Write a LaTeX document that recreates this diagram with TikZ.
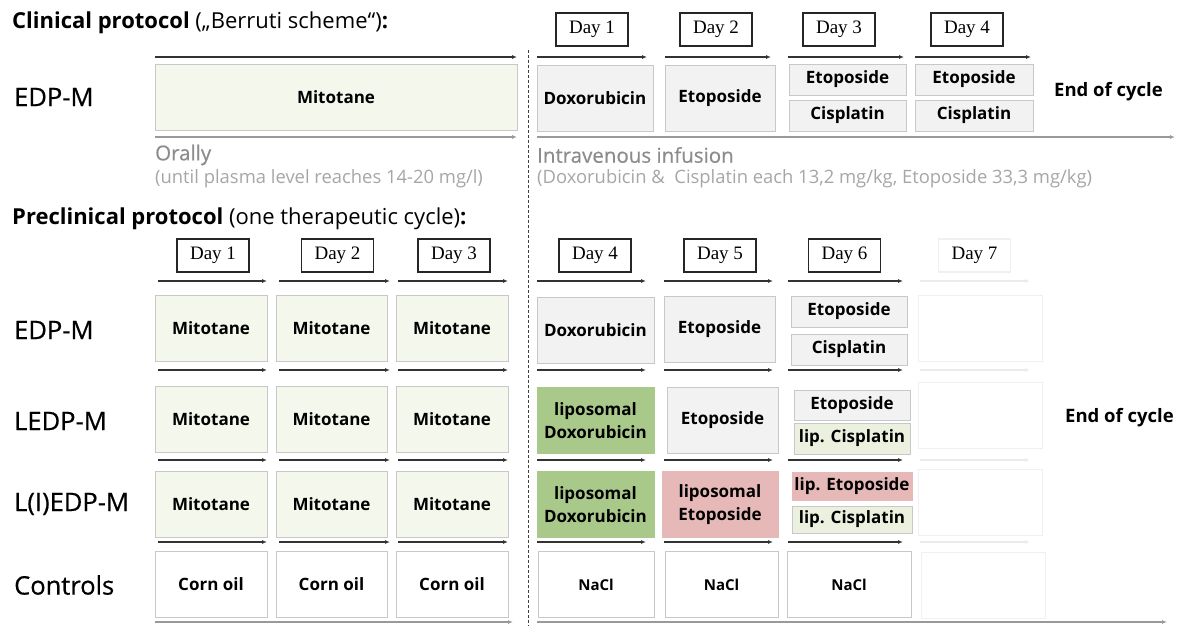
\documentclass[tikz,border=0pt]{standalone}
\usepackage{fontspec}
\setmainfont{Open Sans}
\newfontfamily\dayfont{Liberation Serif}
\newfontfamily\labelfont[FakeBold=0.5]{Open Sans}
\usetikzlibrary{arrows.meta}

\definecolor{mitogreen}{HTML}{F4F7EC}
\definecolor{ivgray}{HTML}{F2F2F2}
\definecolor{lipgreen}{HTML}{A9C98A}
\definecolor{lippale}{HTML}{EBF1DE}
\definecolor{lippink}{HTML}{E6B9B8}
\definecolor{boxline}{HTML}{C8C8C8}
\definecolor{viagray}{HTML}{8C8C8C}
\definecolor{dosegray}{HTML}{A6A6A6}

\begin{document}
\begin{tikzpicture}[x=1pt, y=-1pt,
    daybox/.style={draw=black!85, line width=1.1pt, font=\dayfont\fontsize{19}{21}\selectfont,
        minimum width=72pt, minimum height=33pt, inner sep=0pt},
    cell/.style={draw=boxline, line width=0.9pt, font=\fontsize{17}{23}\selectfont\bfseries,
        align=center, inner sep=0pt, minimum height=66pt},
    half/.style={cell, minimum height=31pt},
    wd/.style={minimum width=#1},
    ghost/.style={draw=black!6, line width=0.9pt, minimum height=66pt, minimum width=124pt},
    rowlabel/.style={anchor=west, inner sep=0pt, font=\labelfont\fontsize{25.5}{28}\selectfont},
    title/.style={anchor=west, inner sep=0pt, font=\fontsize{22}{24}\selectfont},
    endc/.style={anchor=west, inner sep=0pt, font=\fontsize{18.5}{20}\selectfont\bfseries},
    via/.style={anchor=west, inner sep=0pt, text=viagray, font=\labelfont\fontsize{20.5}{22}\selectfont},
    dose/.style={anchor=west, inner sep=0pt, text=dosegray, font=\fontsize{18.4}{20}\selectfont},
    tl/.style={-{Latex[length=5pt,width=4pt]}, line width=1.1pt, draw=black!80},
    tlgray/.style={tl, draw=black!40},
    tlghost/.style={tl, draw=black!8},
    divider/.style={draw=black!75, line width=1pt, dash pattern=on 3pt off 2pt}]

    \useasboundingbox (0,0) rectangle (1179,626);

    % Clinical protocol
    \node[title] (clin) at (12,23) {\textbf{Clinical protocol} („Berruti scheme“)\textbf{:}};
    \node[rowlabel] (cedpm) at (14,97) {EDP-M};

    \node[daybox] (cd1) at (592,29.5) {Day 1};
    \node[daybox] (cd2) at (716,29.5) {Day 2};
    \node[daybox] (cd3) at (839,29.5) {Day 3};
    \node[daybox] (cd4) at (967,29.5) {Day 4};

    \draw[tl] (155,57) -- (517,57);
    \draw[tl] (537,57) -- (647,57);
    \draw[tl] (665,57) -- (771,57);
    \draw[tl] (788,57) -- (904,57);
    \draw[tl] (915,57) -- (1031,57);

    \node[cell, fill=mitogreen, wd=362pt] (cmito) at (336,97.5) {Mitotane};
    \node[cell, fill=ivgray, wd=116pt] (cdoxo) at (595,98) {Doxorubicin};
    \node[cell, fill=ivgray, wd=110pt] (ceto) at (720,98) {Etoposide};
    \node[half, fill=ivgray, wd=117pt] (ceto3) at (847.5,79.5) {Etoposide};
    \node[half, fill=ivgray, wd=117pt] (ccis3) at (847.5,115.5) {Cisplatin};
    \node[half, fill=ivgray, wd=118pt] (ceto4) at (974,79.5) {Etoposide};
    \node[half, fill=ivgray, wd=118pt] (ccis4) at (974,115.5) {Cisplatin};
    \node[endc] (cend) at (1054,92) {End of cycle};

    \draw[tlgray] (155,137) -- (517,137);
    \draw[tlgray] (537,137) -- (1175,137);

    \node[via] (oral) at (155,155) {Orally};
    \node[dose] (oraldose) at (155,179) {(until plasma level reaches 14-20 mg/l)};
    \node[via] (iv) at (537,155) {Intravenous infusion};
    \node[dose] (ivdose) at (537,179) {(Doxorubicin \&\ \ Cisplatin each 13,2 mg/kg, Etoposide 33,3 mg/kg)};

    % oral / intravenous divider
    \draw[divider] (528,50) -- (528,626);

    % Preclinical protocol
    \node[title] (precl) at (12,219) {\textbf{Preclinical protocol} (one therapeutic cycle)\textbf{:}};

    \node[daybox] (pd1) at (213,255.5) {Day 1};
    \node[daybox] (pd2) at (337.5,255.5) {Day 2};
    \node[daybox] (pd3) at (454,255.5) {Day 3};
    \node[daybox] (pd4) at (595,255.5) {Day 4};
    \node[daybox] (pd5) at (720,255.5) {Day 5};
    \node[daybox] (pd6) at (844.5,255.5) {Day 6};
    \node[daybox, draw=black!6] (pd7) at (974.5,255.5) {Day 7};

    \foreach \y in {281,370,460,542} {
        \draw[tl] (158,\y) -- (267,\y);
        \draw[tl] (279,\y) -- (390,\y);
        \draw[tl] (398,\y) -- (508,\y);
        \draw[tl] (537,\y) -- (646,\y);
        \draw[tl] (664,\y) -- (773,\y);
        \draw[tl] (788,\y) -- (903,\y);
        \draw[tlghost] (920,\y) -- (1030,\y);
    }
    \draw[tlgray] (155,622) -- (513,622);
    \draw[tlgray] (537,622) -- (1167,622);

    % EDP-M
    \node[rowlabel] (edpm) at (14,330) {EDP-M};
    \node[cell, fill=mitogreen, wd=112pt] (m11) at (211,328.5) {Mitotane};
    \node[cell, fill=mitogreen, wd=111pt] (m12) at (331.5,328.5) {Mitotane};
    \node[cell, fill=mitogreen, wd=112pt] (m13) at (452,328.5) {Mitotane};
    \node[cell, fill=ivgray, wd=117pt] (d14) at (595.5,330) {Doxorubicin};
    \node[cell, fill=ivgray, wd=111pt] (e15) at (719.5,329.5) {Etoposide};
    \node[half, fill=ivgray, wd=116pt] (e16) at (849,311.5) {Etoposide};
    \node[half, fill=ivgray, wd=116pt] (c16) at (849,349.5) {Cisplatin};
    \node[ghost] (g17) at (980,328.5) {};

    % LEDP-M
    \node[rowlabel] (ledpm) at (14,421) {LEDP-M};
    \node[cell, fill=mitogreen, wd=112pt] (m21) at (211,419.5) {Mitotane};
    \node[cell, fill=mitogreen, wd=111pt] (m22) at (331.5,419.5) {Mitotane};
    \node[cell, fill=mitogreen, wd=112pt] (m23) at (452,419.5) {Mitotane};
    \node[cell, fill=lipgreen, draw=lipgreen, wd=117pt] (d24) at (595.5,420.5) {liposomal\\Doxorubicin};
    \node[cell, fill=ivgray, wd=111pt] (e25) at (722.5,420) {Etoposide};
    \node[half, fill=ivgray, wd=116pt, minimum height=30pt] (e26) at (852,405) {Etoposide};
    \node[half, fill=lippale, wd=116pt] (c26) at (852,438.5) {lip. Cisplatin};
    \node[ghost] (g27) at (980,415) {};
    \node[endc] (pend) at (1065,418) {End of cycle};

    % L(I)EDP-M
    \node[rowlabel] (liedpm) at (14,504) {L(I)EDP-M};
    \node[cell, fill=mitogreen, wd=112pt] (m31) at (211,504) {Mitotane};
    \node[cell, fill=mitogreen, wd=111pt] (m32) at (331.5,504) {Mitotane};
    \node[cell, fill=mitogreen, wd=112pt] (m33) at (452,504) {Mitotane};
    \node[cell, fill=lipgreen, draw=lipgreen, wd=117pt] (d34) at (595.5,504.5) {liposomal\\Doxorubicin};
    \node[cell, fill=lippink, draw=lippink, wd=116pt] (e35) at (720,504.5) {liposomal\\Etoposide};
    \node[half, fill=lippink, draw=lippink, wd=120pt, minimum height=28pt] (e36) at (852,486) {lip. Etoposide};
    \node[half, fill=lippale, wd=120pt, minimum height=27pt] (c36) at (852,519.5) {lip. Cisplatin};
    \node[ghost] (g37) at (980,502) {};

    % Controls
    \node[rowlabel] (ctrl) at (14,585) {Controls};
    \node[cell, wd=112pt] (o41) at (211,584) {Corn oil};
    \node[cell, wd=111pt] (o42) at (331.5,584) {Corn oil};
    \node[cell, wd=112pt] (o43) at (452,584) {Corn oil};
    \node[cell, wd=116pt, font=\fontsize{15}{18}\selectfont\bfseries] (n44) at (596,584.5) {NaCl};
    \node[cell, wd=113pt, font=\fontsize{15}{18}\selectfont\bfseries] (n45) at (721.5,584.5) {NaCl};
    \node[cell, wd=124pt, font=\fontsize{15}{18}\selectfont\bfseries] (n46) at (849,584.5) {NaCl};
    \node[ghost] (g47) at (983,585) {};
\end{tikzpicture}
\end{document}
